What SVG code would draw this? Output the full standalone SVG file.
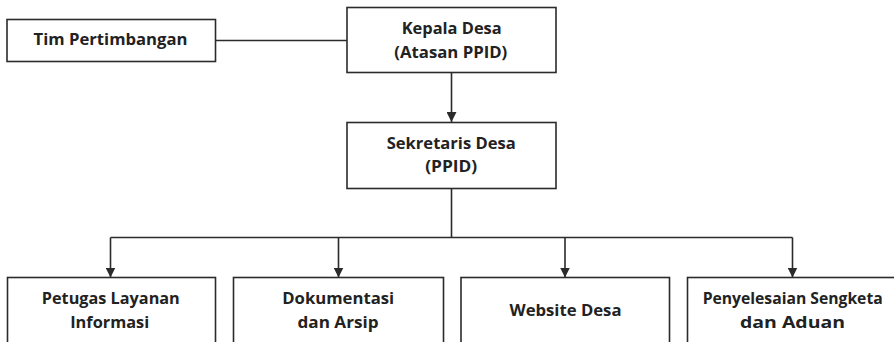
<svg xmlns="http://www.w3.org/2000/svg" width="894" height="342" viewBox="0 0 894 342">
<style>
.box{fill:#fff;stroke:#2b2b2b;stroke-width:1.6}
.t{font-family:"Open Sans","Noto Sans",sans-serif;font-weight:bold;font-size:16.5px;fill:#222;text-anchor:middle}
.c{fill:none;stroke:#2b2b2b;stroke-width:1.6}
</style>
<defs>
<marker id="ah" viewBox="0 0 10 10" refX="10" refY="5" markerWidth="10" markerHeight="10" markerUnits="userSpaceOnUse" orient="auto">
<path d="M0,0 L10,5 L0,10 Z" fill="#2b2b2b"/>
</marker>
</defs>
<rect width="894" height="342" fill="#fff"/>
<g id="connectors">
<path class="c" d="M215.5,40.5 H347"/>
<path class="c" d="M451.5,72.5 V122" marker-end="url(#ah)"/>
<path class="c" d="M451.5,188.5 V237.5"/>
<path class="c" d="M110.5,237.5 H792.5"/>
<path class="c" d="M110.5,237.5 V277.5" marker-end="url(#ah)"/>
<path class="c" d="M338.5,237.5 V277.5" marker-end="url(#ah)"/>
<path class="c" d="M565,237.5 V277.5" marker-end="url(#ah)"/>
<path class="c" d="M792.5,237.5 V277.5" marker-end="url(#ah)"/>
</g>
<g id="tim">
<rect class="box" x="7" y="19.5" width="208.5" height="42"/>
<text class="t" x="110.5" y="45" textLength="154" lengthAdjust="spacingAndGlyphs">Tim Pertimbangan</text>
</g>
<g id="kepala">
<rect class="box" x="347" y="7.5" width="209" height="65"/>
<text class="t" x="451.7" y="34" textLength="100" lengthAdjust="spacingAndGlyphs">Kepala Desa</text>
<text class="t" x="450.8" y="57.5" textLength="113" lengthAdjust="spacingAndGlyphs">(Atasan PPID)</text>
</g>
<g id="sekretaris">
<rect class="box" x="347" y="122.5" width="209" height="66"/>
<text class="t" x="451.2" y="149" textLength="129" lengthAdjust="spacingAndGlyphs">Sekretaris Desa</text>
<text class="t" x="451.2" y="171.7" textLength="52" lengthAdjust="spacingAndGlyphs">(PPID)</text>
</g>
<g id="petugas">
<rect class="box" x="7.5" y="277.5" width="208" height="80"/>
<text class="t" x="110.8" y="304" textLength="138" lengthAdjust="spacingAndGlyphs">Petugas Layanan</text>
<text class="t" x="109.7" y="327.7" textLength="79" lengthAdjust="spacingAndGlyphs">Informasi</text>
</g>
<g id="dokumentasi">
<rect class="box" x="233.5" y="277.5" width="210" height="80"/>
<text class="t" x="338.2" y="304" textLength="112" lengthAdjust="spacingAndGlyphs">Dokumentasi</text>
<text class="t" x="338" y="327.7" textLength="81" lengthAdjust="spacingAndGlyphs">dan Arsip</text>
</g>
<g id="website">
<rect class="box" x="461" y="277.5" width="208.5" height="80"/>
<text class="t" x="565.5" y="315.7" textLength="112" lengthAdjust="spacingAndGlyphs">Website Desa</text>
</g>
<g id="penyelesaian">
<rect class="box" x="687.5" y="277.5" width="210" height="80"/>
<text class="t" x="792.7" y="303.5" textLength="180" lengthAdjust="spacingAndGlyphs">Penyelesaian Sengketa</text>
<text class="t" x="792.5" y="327.5" textLength="105" lengthAdjust="spacingAndGlyphs">dan Aduan</text>
</g>
</svg>
